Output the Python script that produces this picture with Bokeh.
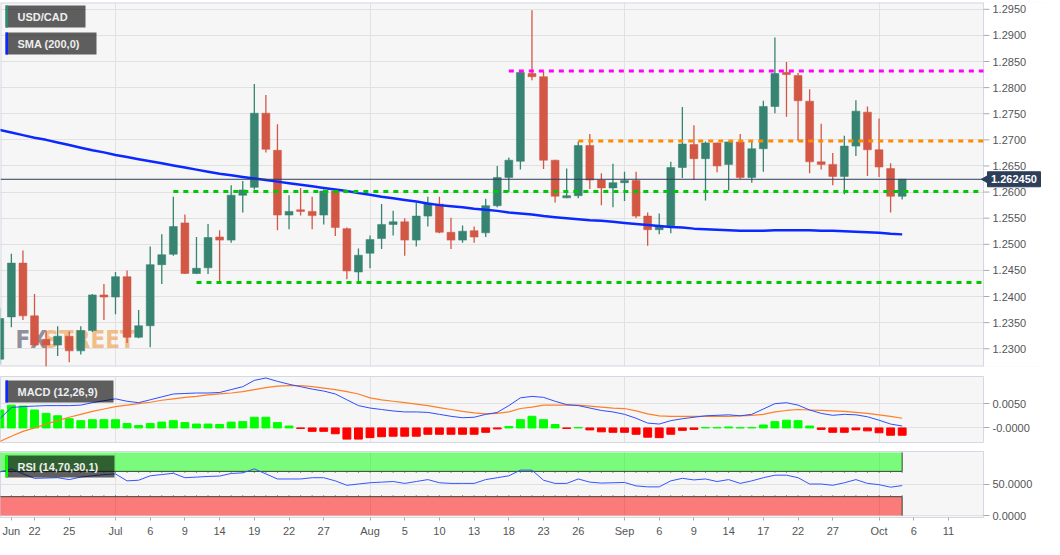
import math
import pandas as pd
from bokeh.plotting import figure
from bokeh.layouts import column
from bokeh.models import (Range1d, FixedTicker, Label, BoxAnnotation,
                          CustomJSTickFormatter, NumeralTickFormatter)
from bokeh.core.properties import value
from bokeh.embed import file_html
from bokeh.resources import INLINE

FONT = "Liberation Sans"

# ---------------- data ----------------
dates = [d.strftime("%Y-%m-%d") for d in pd.bdate_range("2021-06-17", "2021-10-05")]

opens = [1.2280, 1.2361, 1.2464, 1.2363, 1.2318, 1.2307, 1.2324, 1.2296, 1.2335, 1.2403,
         1.2399, 1.2438, 1.2322, 1.2344, 1.2461, 1.2481, 1.2541, 1.2444, 1.2455, 1.2514,
         1.2508, 1.2594, 1.2609, 1.2751, 1.2680, 1.2556, 1.2566, 1.2563, 1.2556, 1.2602,
         1.2530, 1.2447, 1.2483, 1.2511, 1.2538, 1.2543, 1.2508, 1.2554, 1.2577, 1.2523,
         1.2508, 1.2526, 1.2522, 1.2574, 1.2628, 1.2659, 1.2827, 1.2821, 1.2661, 1.2589,
         1.2593, 1.2689, 1.2623, 1.2608, 1.2618, 1.2622, 1.2554, 1.2528, 1.2533, 1.2647,
         1.2691, 1.2664, 1.2694, 1.2653, 1.2696, 1.2628, 1.2683, 1.2764, 1.2829, 1.2823,
         1.2774, 1.2658, 1.2653, 1.2630, 1.2688, 1.2753, 1.2681, 1.2645, 1.2592]
highs = [1.2378, 1.2482, 1.2488, 1.2405, 1.2335, 1.2343, 1.2333, 1.2343, 1.2405, 1.2424,
         1.2447, 1.2450, 1.2374, 1.2496, 1.2519, 1.2591, 1.2557, 1.2514, 1.2539, 1.2527,
         1.2613, 1.2621, 1.2807, 1.2786, 1.2730, 1.2594, 1.2608, 1.2591, 1.2605, 1.2603,
         1.2532, 1.2492, 1.2517, 1.2577, 1.2564, 1.2550, 1.2579, 1.2591, 1.2591, 1.2551,
         1.2536, 1.2534, 1.2587, 1.2650, 1.2666, 1.2830, 1.2948, 1.2831, 1.2662, 1.2645,
         1.2697, 1.2711, 1.2636, 1.2654, 1.2639, 1.2639, 1.2561, 1.2559, 1.2658, 1.2763,
         1.2728, 1.2697, 1.2695, 1.2697, 1.2711, 1.2697, 1.2775, 1.2896, 1.2849, 1.2828,
         1.2797, 1.2731, 1.2675, 1.2708, 1.2776, 1.2764, 1.2741, 1.2655, 1.2625]
lows = [1.2270, 1.2341, 1.2355, 1.2305, 1.2266, 1.2286, 1.2274, 1.2289, 1.2332, 1.2355,
        1.2366, 1.2311, 1.2320, 1.2303, 1.2424, 1.2478, 1.2443, 1.2443, 1.2443, 1.2427,
        1.2503, 1.2561, 1.2605, 1.2676, 1.2527, 1.2529, 1.2555, 1.2529, 1.2538, 1.2516,
        1.2433, 1.2428, 1.2454, 1.2491, 1.2517, 1.2478, 1.2496, 1.2534, 1.2521, 1.2491,
        1.2503, 1.2503, 1.2514, 1.2571, 1.2600, 1.2643, 1.2814, 1.2644, 1.2580, 1.2588,
        1.2588, 1.2606, 1.2575, 1.2571, 1.2583, 1.2550, 1.2497, 1.2519, 1.2521, 1.2627,
        1.2623, 1.2584, 1.2638, 1.2603, 1.2625, 1.2618, 1.2639, 1.2751, 1.2744, 1.2698,
        1.2636, 1.2643, 1.2613, 1.2596, 1.2669, 1.2631, 1.2629, 1.2561, 1.2586]
closes = [1.2358, 1.2464, 1.2363, 1.2307, 1.2307, 1.2324, 1.2296, 1.2335, 1.2403, 1.2399,
          1.2438, 1.2322, 1.2344, 1.2461, 1.2480, 1.2534, 1.2444, 1.2454, 1.2513, 1.2508,
          1.2594, 1.2604, 1.2751, 1.2682, 1.2556, 1.2563, 1.2563, 1.2555, 1.2602, 1.2532,
          1.2449, 1.2479, 1.2509, 1.2538, 1.2543, 1.2508, 1.2554, 1.2578, 1.2523, 1.2508,
          1.2525, 1.2514, 1.2574, 1.2628, 1.2661, 1.2829, 1.2821, 1.2661, 1.2592, 1.2593,
          1.2689, 1.2623, 1.2608, 1.2618, 1.2622, 1.2554, 1.2528, 1.2534, 1.2647, 1.2692,
          1.2664, 1.2694, 1.2650, 1.2696, 1.2628, 1.2683, 1.2764, 1.2827, 1.2825, 1.2775,
          1.2658, 1.2653, 1.2630, 1.2688, 1.2755, 1.2681, 1.2648, 1.2592, 1.26245]
sma200 = [1.2719, 1.2714, 1.2709, 1.2704, 1.2700, 1.2695, 1.2690, 1.2685, 1.2680, 1.2676,
          1.2671, 1.2667, 1.2663, 1.2659, 1.2655, 1.2651, 1.2647, 1.2643, 1.2639, 1.2635,
          1.2632, 1.2629, 1.2626, 1.2623, 1.2620, 1.2617, 1.2614, 1.2611, 1.2608, 1.2605,
          1.2602, 1.2598, 1.2595, 1.2591, 1.2588, 1.2585, 1.2582, 1.2578, 1.2575, 1.2573,
          1.2571, 1.2568, 1.2566, 1.2564, 1.2561, 1.2559, 1.2557, 1.2554, 1.2552, 1.2550,
          1.2548, 1.2546, 1.2545, 1.2543, 1.2541, 1.2539, 1.2537, 1.2535, 1.2533, 1.2532,
          1.2530, 1.2529, 1.2528, 1.2527, 1.2526, 1.2526, 1.2526, 1.2527, 1.2527, 1.2527,
          1.2527, 1.2526, 1.2526, 1.2525, 1.2524, 1.2523, 1.2522, 1.2520, 1.2519]
macd = [0.0019, 0.0042, 0.0044, 0.0045, 0.0046, 0.0046, 0.0046, 0.0047, 0.0052, 0.0056,
        0.0060, 0.0055, 0.0052, 0.0058, 0.0064, 0.0070, 0.0071, 0.0072, 0.0072, 0.0073,
        0.0079, 0.0085, 0.0098, 0.0103, 0.0096, 0.0090, 0.0085, 0.0080, 0.0076, 0.0070,
        0.0058, 0.0046, 0.0041, 0.0038, 0.0035, 0.0033, 0.0033, 0.0032, 0.0028, 0.0024,
        0.0021, 0.0022, 0.0028, 0.0032, 0.0046, 0.0062, 0.0065, 0.0063, 0.0055, 0.0048,
        0.0046, 0.0041, 0.0036, 0.0033, 0.0028, 0.0020, 0.0010, 0.0008, 0.0015, 0.0019,
        0.0022, 0.0025, 0.0026, 0.0027, 0.0025, 0.0028, 0.0039, 0.0050, 0.0052, 0.0047,
        0.0037, 0.0030, 0.0026, 0.0028, 0.0027, 0.0023, 0.0016, 0.0008, 0.0004]
signal = [-0.0028, -0.0017, -0.0007, 0.0000, 0.0008, 0.0015, 0.0022, 0.0028, 0.0034, 0.0039,
          0.0044, 0.0047, 0.0050, 0.0053, 0.0057, 0.0060, 0.0063, 0.0065, 0.0068, 0.0070,
          0.0072, 0.0075, 0.0079, 0.0083, 0.0086, 0.0087, 0.0087, 0.0085, 0.0082, 0.0079,
          0.0075, 0.0070, 0.0062, 0.0058, 0.0055, 0.0052, 0.0049, 0.0046, 0.0042, 0.0038,
          0.0034, 0.0031, 0.0029, 0.0030, 0.0033, 0.0040, 0.0043, 0.0047, 0.0047, 0.0047,
          0.0047, 0.0045, 0.0043, 0.0041, 0.0040, 0.0035, 0.0029, 0.0025, 0.0024, 0.0024,
          0.0024, 0.0024, 0.0024, 0.0024, 0.0025, 0.0026, 0.0028, 0.0033, 0.0036, 0.0038,
          0.0037, 0.0036, 0.0035, 0.0034, 0.0032, 0.0030, 0.0027, 0.0024, 0.0020]
hist = [0.0037, 0.0047, 0.0045, 0.0037, 0.0030, 0.0025, 0.0019, 0.0015, 0.0017, 0.0017,
        0.0017, 0.0009, 0.0005, 0.0009, 0.0012, 0.0015, 0.0011, 0.0008, 0.0008, 0.0007,
        0.0012, 0.0013, 0.0022, 0.0022, 0.0011, 0.0004, -0.0001, -0.0007, -0.0007, -0.0012,
        -0.0023, -0.0023, -0.0020, -0.0018, -0.0017, -0.0017, -0.0017, -0.0013, -0.0013, -0.0013,
        -0.0013, -0.0013, -0.0009, -0.0002, 0.0003, 0.0017, 0.0024, 0.0017, 0.0007, -0.0001,
        0.0001, -0.0004, -0.0008, -0.0009, -0.0009, -0.0013, -0.0019, -0.0020, -0.0013, -0.0005,
        -0.0003, 0.0001, 0.0001, 0.0002, 0.00005, 0.0001, 0.0006, 0.0013, 0.0016, 0.0015,
        0.0004, -0.0003, -0.0009, -0.0009, -0.0004, -0.0006, -0.0010, -0.0015, -0.0015]
rsi = [69, 74, 66, 59, 59.5, 60, 57, 61, 63, 65,
       66, 55, 56, 63, 65, 67, 60, 61, 62, 62.6,
       66.7, 67.7, 74, 66, 58, 58, 58, 60, 60, 55,
       48, 50, 52, 53, 54, 51, 54, 57, 52, 51,
       51, 51, 57, 60, 63, 72, 72, 56, 51, 51,
       58, 53, 51.5, 52, 52.5, 47, 45.5, 45.5, 55, 59,
       56.5, 58, 54, 57, 51, 55, 60, 64, 64, 60,
       50, 50, 48, 52, 57, 51, 49, 45, 47.5]

# horizontal levels
level_values = [1.2832, 1.2698, 1.2601, 1.2427]
level_colors = ["#ff00ff", "#ff8c00", "#00c800", "#00c800"]
level_starts = ["2021-08-18", "2021-08-26", "2021-07-08", "2021-07-12"]

price_ticks = [1.2300, 1.2350, 1.2400, 1.2450, 1.2500, 1.2550, 1.2600, 1.2650,
               1.2700, 1.2750, 1.2800, 1.2850, 1.2900, 1.2950]
macd_ticks = [0.0, 0.005]
rsi_ticks = [0, 50]
rsi_upper, rsi_lower, rsi_top = 70, 30, 100

tick_dates = ["2021-06-18", "2021-06-22", "2021-06-25", "2021-07-01", "2021-07-06", "2021-07-09",
              "2021-07-14", "2021-07-19", "2021-07-22", "2021-07-27", "2021-08-02", "2021-08-05",
              "2021-08-10", "2021-08-13", "2021-08-18", "2021-08-23", "2021-08-26", "2021-09-01",
              "2021-09-06", "2021-09-09", "2021-09-14", "2021-09-17", "2021-09-22", "2021-09-27",
              "2021-10-01", "2021-10-06", "2021-10-11"]
tick_labels = ["Jun", "22", "25", "Jul", "6", "9", "14", "19", "22", "27", "Aug", "5", "10",
               "13", "18", "23", "26", "Sep", "6", "9", "14", "17", "22", "27", "Oct", "6", "11"]
month_starts = ["2021-07-01", "2021-08-02", "2021-09-01", "2021-10-01"]

# ---------------- positions (trading-day index) ----------------
calendar = [d.strftime("%Y-%m-%d") for d in pd.bdate_range("2021-06-17", "2021-10-15")]
origin = calendar.index("2021-07-01")


def xpos(d):
    return calendar.index(d) - origin


xs = [xpos(d) for d in dates]
n = len(xs)
up = [c >= o for o, c in zip(opens, closes)]
GREEN, RED = "#368471", "#d35745"
ccol = [GREEN if u else RED for u in up]
body_top = [max(o, c) for o, c in zip(opens, closes)]
body_bot = [min(o, c) for o, c in zip(opens, closes)]
last_close = closes[-1]

# ---------------- layout ----------------
FW = 983            # plotting frame width (px)
AXW = 61            # right axis strip (px)
FH1, FH2, FH3 = 364, 66, 66
X0, X1 = -9.94, 75.03
PX = (X1 - X0) / FW  # data units per pixel along x
XR = X1 + AXW * PX
xr = Range1d(X0, X1)
yr1 = Range1d(1.2266, 1.2963)
yr2 = Range1d(-0.0030, 0.0106)
yr3 = Range1d(-3, 101.5)
month_ticks = [xpos(d) for d in month_starts]
FRAME_BG, GRID, OUTLINE, TICK, LABEL = "#f6f6f6", "#e1e1e1", "#d3d8e4", "#aaaaaa", "#555555"
TAG = "#2c3e5a"


def xa(px):
    return X0 + px * PX


def style_yaxis(p):
    for ax in p.yaxis:
        ax.axis_line_color = None
        ax.major_tick_line_color = TICK
        ax.major_tick_out = 6
        ax.major_tick_in = 0
        ax.minor_tick_line_color = None
        ax.major_label_text_color = LABEL
        ax.major_label_text_font = FONT
        ax.major_label_text_font_size = "11px"
        ax.major_label_standoff = 3


def make_fig(fh, yr, top, bottom, with_xaxis):
    p = figure(frame_width=FW, frame_height=fh, x_range=xr, y_range=yr,
               y_axis_location="right", x_axis_location="below" if with_xaxis else None,
               toolbar_location=None, output_backend="svg",
               min_border_left=0, min_border_right=AXW, min_border_top=top,
               min_border_bottom=bottom, background_fill_color=FRAME_BG,
               border_fill_color="white", outline_line_color=OUTLINE)
    p.xgrid.ticker = FixedTicker(ticks=month_ticks)
    p.grid.grid_line_color = GRID
    p.grid.grid_line_width = 1
    style_yaxis(p)
    return p


def tag_box(p, fh, yr, left, right, top, bottom, strip_color, text):
    def ya(py):
        return yr.end - py * (yr.end - yr.start) / fh

    p.add_layout(BoxAnnotation(left=xa(left), right=xa(right), top=ya(top), bottom=ya(bottom),
                               fill_color="black", fill_alpha=0.62, line_color=None))
    p.add_layout(BoxAnnotation(left=xa(left), right=xa(left + 2.5), top=ya(top), bottom=ya(bottom),
                               fill_color=strip_color, fill_alpha=1, line_color=None))
    p.add_layout(Label(x=xa(left + 12), y=ya((top + bottom) / 2), text=text,
                       text_baseline="middle", text_font=FONT, text_font_size="11px",
                       text_font_style="bold", text_color="#eeeeee"))


# ---------------- main price panel ----------------
# The frame spans the price-scale strip too, so that the last-price tag can sit over it.
p1 = figure(frame_width=FW + AXW, frame_height=FH1, x_range=Range1d(X0, XR), y_range=yr1,
            y_axis_location=None, x_axis_location=None, toolbar_location=None,
            output_backend="svg", min_border_left=0, min_border_right=0, min_border_top=2,
            min_border_bottom=5, background_fill_color=FRAME_BG, border_fill_color="white",
            outline_line_color=None)
p1.xgrid.ticker = FixedTicker(ticks=month_ticks)
p1.ygrid.ticker = FixedTicker(ticks=price_ticks)
p1.grid.grid_line_color = GRID
p1.grid.grid_line_width = 1

# price-scale strip: white background, frame border, ticks and labels on the y scale
p1.quad(left=[X1], right=[XR], bottom=[yr1.start], top=[yr1.end], fill_color="white",
        line_color=None)
p1.multi_line(xs=[[X0, X1], [X0, X1], [X0, X0]],
              ys=[[yr1.end, yr1.end], [yr1.start, yr1.start], [yr1.start, yr1.end]],
              line_color=OUTLINE, line_width=2)
p1.segment(x0=[X1], y0=[yr1.start], x1=[X1], y1=[yr1.end], line_color=OUTLINE, line_width=1)
p1.segment(x0=[X1] * len(price_ticks), y0=price_ticks, x1=[X1 + 6 * PX] * len(price_ticks),
           y1=price_ticks, line_color=TICK, line_width=1)
p1.text(x=[X1 + 9 * PX] * len(price_ticks), y=price_ticks,
        text=[f"{t:.4f}" for t in price_ticks], text_font=value(FONT), text_font_size="11px",
        text_color=LABEL, text_baseline="middle", text_align="left")

WM_FONT = "DejaVu Sans Condensed, Liberation Sans"
p1.add_layout(Label(x=xa(15), y=yr1.end - 351 * (yr1.end - yr1.start) / FH1, text="FX",
                    text_font=WM_FONT, text_font_size="24px", text_font_style="bold",
                    text_color="#6f6f80", text_alpha=0.75, level="underlay"))
p1.add_layout(Label(x=xa(43), y=yr1.end - 351 * (yr1.end - yr1.start) / FH1, text="STREET",
                    text_font=WM_FONT, text_font_size="24px", text_font_style="bold",
                    text_color="#efa558", text_alpha=0.7, level="underlay"))

p1.segment(x0=xs, y0=highs, x1=xs, y1=lows, line_color=ccol, line_width=1.3)
p1.vbar(x=xs, width=0.68, top=body_top, bottom=body_bot, fill_color=ccol,
        line_color=ccol, line_alpha=0.55, line_width=1)
p1.line(xs, sma200, line_color="#0a28ff", line_width=2.5)
p1.segment(x0=[xpos(d) for d in level_starts], y0=level_values,
           x1=[X1] * len(level_values), y1=level_values,
           line_color=level_colors, line_width=3, line_dash="5 5")

# last price line and tag
p1.segment(x0=[X0], y0=[last_close], x1=[X1 + 3 * PX], y1=[last_close], line_color=TAG,
           line_width=1)
p1.scatter(x=[X1 + 2.5 * PX], y=[last_close], marker="triangle", angle=math.pi / 2, size=8,
           fill_color=TAG, line_color=TAG)
p1.rect(x=[X1 + 30.5 * PX], y=[last_close], width=53 * PX, height=15, height_units="screen",
        fill_color=TAG, line_color=TAG)
p1.text(x=[X1 + 7.5 * PX], y=[last_close], text=[f"{last_close:.6f}"], text_font=value(FONT),
        text_font_size="11px", text_font_style="bold", text_color="white",
        text_baseline="middle", text_align="left")

tag_box(p1, FH1, yr1, 5, 85, 3, 25, "#2e8b6e", "USD/CAD")
tag_box(p1, FH1, yr1, 5, 96, 30, 52, "#0a28ff", "SMA (200,0)")

# ---------------- MACD panel ----------------
p2 = make_fig(FH2, yr2, 5, 4, False)
p2.yaxis.ticker = FixedTicker(ticks=macd_ticks)
p2.yaxis.formatter = CustomJSTickFormatter(code="return tick == 0 ? '-0.0000' : tick.toFixed(4);")
hcol = ["#00ff00" if h >= 0 else "#ff0000" for h in hist]
p2.vbar(x=xs, width=0.68, top=hist, bottom=0, fill_color=hcol, line_color=hcol, line_width=1)
p2.line(xs, signal, line_color="#ff7f27", line_width=1.2)
p2.line(xs, macd, line_color="#2f4cff", line_width=1)
tag_box(p2, FH2, yr2, 5, 113, 4, 26, "#0a28ff", "MACD (12,26,9)")

# ---------------- RSI panel ----------------
p3 = make_fig(FH3, yr3, 5, 0, True)
p3.yaxis.ticker = FixedTicker(ticks=rsi_ticks)
p3.yaxis.formatter = NumeralTickFormatter(format="0.0000")
zl, zr = xs[0] - 0.5, xs[-1]
p3.quad(left=[zl], right=[zr], bottom=[rsi_upper], top=[rsi_top], fill_color="#00ff00",
        fill_alpha=0.5, line_color=None)
p3.quad(left=[zl], right=[zr], bottom=[0], top=[rsi_lower], fill_color="#ff0000",
        fill_alpha=0.5, line_color=None)
p3.multi_line(xs=[[zl, zr, zr], [zl, zr, zr]],
              ys=[[rsi_upper, rsi_upper, rsi_top], [rsi_lower, rsi_lower, 0]],
              line_color="#1e2a1e", line_width=1, line_alpha=0.85)
p3.segment(x0=xs, y0=[rsi_upper] * n, x1=xs, y1=[rsi_upper - 2.5] * n,
           line_color="#444444", line_alpha=0.6, line_width=1)
p3.segment(x0=xs, y0=[rsi_lower] * n, x1=xs, y1=[rsi_lower + 2.5] * n,
           line_color="#444444", line_alpha=0.6, line_width=1)
p3.line(xs, rsi, line_color="#3355ff", line_width=1)
tag_box(p3, FH3, yr3, 5, 114, 4, 26, "#00ff00", "RSI (14,70,30,1)")

xax = p3.xaxis[0]
xax.ticker = FixedTicker(ticks=[xpos(d) for d in tick_dates])
xax.major_label_overrides = {xpos(d): lab for d, lab in zip(tick_dates, tick_labels)}
xax.axis_line_color = None
xax.major_tick_line_color = TICK
xax.major_tick_out = 3
xax.major_tick_in = 0
xax.minor_tick_line_color = None
xax.major_label_text_color = LABEL
xax.major_label_text_font = FONT
xax.major_label_text_font_size = "11px"
xax.major_label_standoff = 4

layout = column(p1, p2, p3, spacing=0)
open("out.html", "w").write(file_html(layout, INLINE))
